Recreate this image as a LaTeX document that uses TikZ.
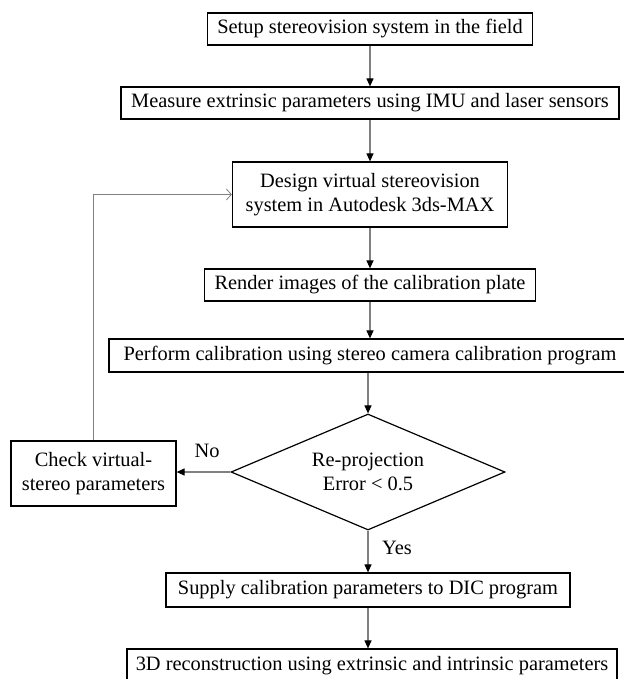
\documentclass[tikz,border=0pt]{standalone}
\usepackage{fontspec}
\setmainfont{Liberation Serif}
\usetikzlibrary{shapes.geometric,arrows.meta}

\begin{document}
\begin{tikzpicture}[x=1pt, y=-1pt,
  every node/.style = {align=center,
    font=\fontsize{20.4}{24}\selectfont},
  box/.style = {draw, line width=1.2pt,
    inner sep=0pt, minimum height=32pt},
  decision/.style = {draw, line width=1.2pt, shape=diamond,
    aspect=2.36, inner sep=0pt,
    minimum width=274pt, minimum height=116pt},
  arr/.style  = {draw=gray, line width=1.1pt,
    -{Triangle[length=8pt,width=7pt,color=black]}},
  back/.style = {draw=gray, line width=0.8pt,
    -{Straight Barb[length=5pt,width=11pt]}}]
\useasboundingbox (0,0) rectangle (623,679);
\node[box, minimum width=325pt] (setup) at (370,29)
  {Setup stereovision system in the field};
\node[box, minimum width=498pt] (measure) at (370,103)
  {Measure extrinsic parameters using IMU and laser sensors};
\node[box, minimum width=275pt, minimum height=65pt] (design) at (370,194.5)
  {Design virtual stereovision\\system in Autodesk 3ds-MAX};
\node[box, minimum width=331pt] (render) at (370,285)
  {Render images of the calibration plate};
\node[box, minimum width=522pt, minimum height=33pt] (perform) at (370,355.5)
  {Perform calibration using stereo camera calibration program};
\node[decision] (dec) at (368,472)
  {Re-projection\\Error < 0.5};
\node[box, minimum width=165pt, minimum height=65pt] (check) at (93.5,473.5)
  {Check virtual-\\stereo parameters};
\node[box, minimum width=404pt, minimum height=34pt] (supply) at (368,590)
  {Supply calibration parameters to DIC program};
\node[box, minimum width=490pt, minimum height=33pt] (recon) at (372,665.5)
  {3D reconstruction using extrinsic and intrinsic parameters};
\node (no) at (207,451) {No};
\node (yes) at (397,548) {Yes};
% connectors
\draw[arr] (setup) -- (measure);
\draw[arr] (measure) -- (design);
\draw[arr] (design.south) -- (design.south |- render.north);
\draw[arr] (render.south) -- (render.south |- perform.north);
\draw[arr] (perform.south -| dec.north) -- (dec.north);
\draw[arr] (dec) -- (supply);
\draw[arr] (supply.south) -- (supply.south |- recon.north);
\draw[arr] (dec.west) -- (dec.west -| check.east);
\draw[back] (check.north) |- (design.west);
\end{tikzpicture}
\end{document}
